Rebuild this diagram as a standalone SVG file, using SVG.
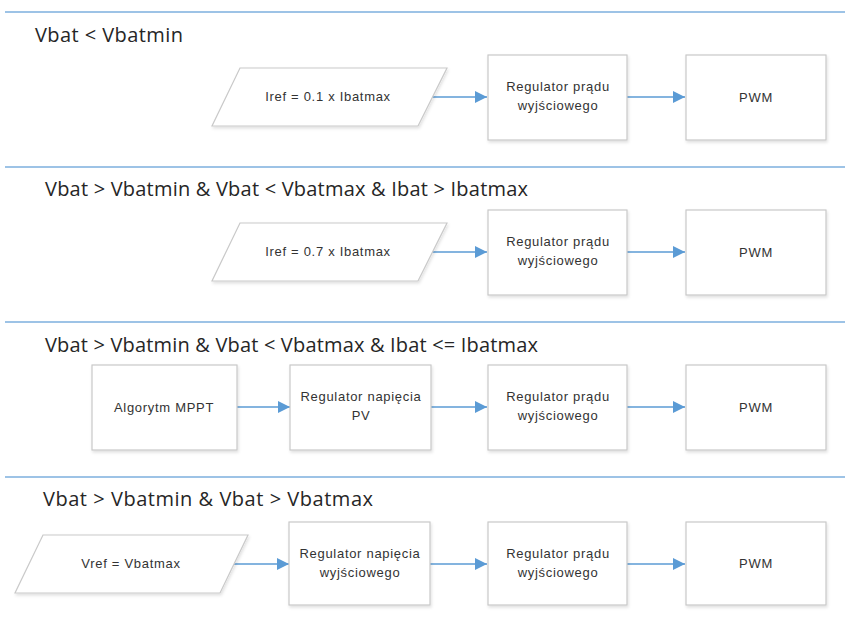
<svg xmlns="http://www.w3.org/2000/svg" width="845" height="630" viewBox="0 0 845 630">
<style>
.sep{stroke:#9dc3e6;stroke-width:2;fill:none}
.title{font-family:"Open Sans","Liberation Sans",sans-serif;font-size:20px;fill:#262626}
.node{fill:#fff;stroke:#c9c9c9;stroke-width:1.2;filter:url(#sh)}
.lbl{font-family:"Liberation Sans","Open Sans",sans-serif;font-size:13px;letter-spacing:0.7px;fill:#333;text-anchor:middle}
.conn{stroke:#5b9bd5;stroke-width:1.5;fill:none;marker-end:url(#ah)}
</style>
<defs>
<filter id="sh" x="-10%" y="-10%" width="120%" height="130%">
<feDropShadow dx="1" dy="2" stdDeviation="1.5" flood-color="#000" flood-opacity="0.12"/>
</filter>
<marker id="ah" markerWidth="12" markerHeight="12" refX="12" refY="6" orient="auto" markerUnits="userSpaceOnUse">
<path d="M0,0 L12,6 L0,12 Z" fill="#5b9bd5"/>
</marker>
</defs>
<rect width="845" height="630" fill="#fff"/>
<g id="separators">
<line class="sep" x1="5" y1="12" x2="845" y2="12"/>
<line class="sep" x1="5" y1="167" x2="845" y2="167"/>
<line class="sep" x1="5" y1="322" x2="845" y2="322"/>
<line class="sep" x1="5" y1="477" x2="845" y2="477"/>
</g>
<g id="titles">
<text class="title" x="35" y="42" textLength="148" lengthAdjust="spacing">Vbat &lt; Vbatmin</text>
<text class="title" x="45" y="196" textLength="483" lengthAdjust="spacing">Vbat &gt; Vbatmin &amp; Vbat &lt; Vbatmax &amp; Ibat &gt; Ibatmax</text>
<text class="title" x="45" y="352" textLength="493" lengthAdjust="spacing">Vbat &gt; Vbatmin &amp; Vbat &lt; Vbatmax &amp; Ibat &lt;= Ibatmax</text>
<text class="title" x="43" y="506" textLength="330" lengthAdjust="spacing">Vbat &gt; Vbatmin &amp; Vbat &gt; Vbatmax</text>
</g>
<g id="connectors">
<line class="conn" x1="432" y1="97" x2="487" y2="97"/>
<line class="conn" x1="627" y1="97" x2="685" y2="97"/>
<line class="conn" x1="432" y1="252" x2="487" y2="252"/>
<line class="conn" x1="627" y1="252" x2="685" y2="252"/>
<line class="conn" x1="237" y1="407" x2="290" y2="407"/>
<line class="conn" x1="431" y1="407" x2="487" y2="407"/>
<line class="conn" x1="627" y1="407" x2="685" y2="407"/>
<line class="conn" x1="234" y1="564" x2="289" y2="564"/>
<line class="conn" x1="430" y1="564" x2="487" y2="564"/>
<line class="conn" x1="627" y1="564" x2="685" y2="564"/>
</g>
<g id="r1-iref">
<polygon class="node" points="240,68 447,68 418,126 212,126"/>
<text class="lbl" x="328" y="101">Iref = 0.1 x Ibatmax</text>
</g>
<g id="r1-regpradu">
<rect class="node" x="488" y="55" width="139" height="85"/>
<text class="lbl" x="558" y="91">Regulator prądu</text>
<text class="lbl" x="558" y="110">wyjściowego</text>
</g>
<g id="r1-pwm">
<rect class="node" x="686" y="55" width="140" height="85"/>
<text class="lbl" x="756" y="102">PWM</text>
</g>
<g id="r2-iref">
<polygon class="node" points="240,223 447,223 418,281 212,281"/>
<text class="lbl" x="328" y="256">Iref = 0.7 x Ibatmax</text>
</g>
<g id="r2-regpradu">
<rect class="node" x="488" y="210" width="139" height="85"/>
<text class="lbl" x="558" y="246">Regulator prądu</text>
<text class="lbl" x="558" y="265">wyjściowego</text>
</g>
<g id="r2-pwm">
<rect class="node" x="686" y="210" width="140" height="85"/>
<text class="lbl" x="756" y="257">PWM</text>
</g>
<g id="r3-mppt">
<rect class="node" x="92" y="365" width="145" height="85"/>
<text class="lbl" x="164" y="412">Algorytm MPPT</text>
</g>
<g id="r3-regnapPV">
<rect class="node" x="290" y="365" width="141" height="85"/>
<text class="lbl" x="361" y="401">Regulator napięcia</text>
<text class="lbl" x="361" y="420">PV</text>
</g>
<g id="r3-regpradu">
<rect class="node" x="488" y="365" width="139" height="85"/>
<text class="lbl" x="558" y="401">Regulator prądu</text>
<text class="lbl" x="558" y="420">wyjściowego</text>
</g>
<g id="r3-pwm">
<rect class="node" x="686" y="365" width="140" height="85"/>
<text class="lbl" x="756" y="412">PWM</text>
</g>
<g id="r4-vref">
<polygon class="node" points="43,535 248,535 220,593 15,593"/>
<text class="lbl" x="131" y="568">Vref = Vbatmax</text>
</g>
<g id="r4-regnapwy">
<rect class="node" x="289" y="522" width="141" height="83"/>
<text class="lbl" x="360" y="558">Regulator napięcia</text>
<text class="lbl" x="360" y="577">wyjściowego</text>
</g>
<g id="r4-regpradu">
<rect class="node" x="488" y="522" width="139" height="83"/>
<text class="lbl" x="558" y="558">Regulator prądu</text>
<text class="lbl" x="558" y="577">wyjściowego</text>
</g>
<g id="r4-pwm">
<rect class="node" x="686" y="522" width="140" height="83"/>
<text class="lbl" x="756" y="568">PWM</text>
</g>
</svg>
